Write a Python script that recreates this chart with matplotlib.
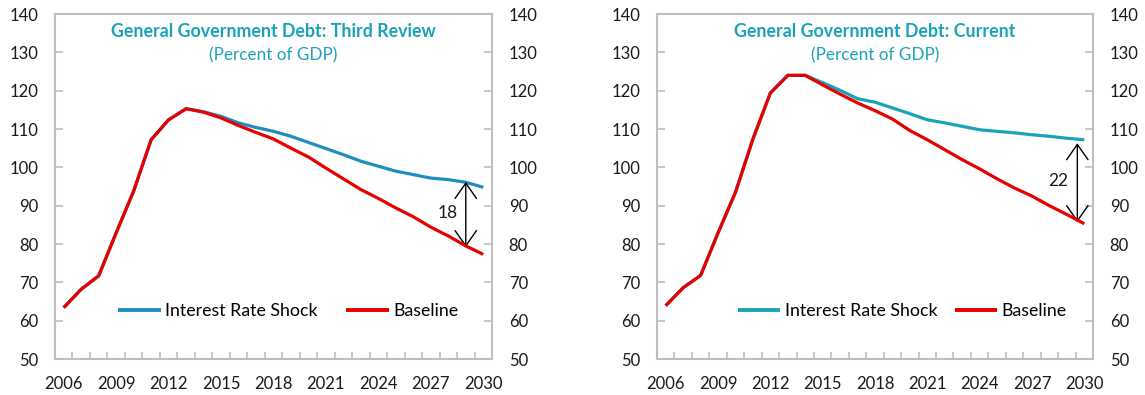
import numpy as np
import matplotlib
matplotlib.use("Agg")
from matplotlib import pyplot as plt

plt.rcParams['font.family'] = ['Lato', 'DejaVu Sans']

years = list(range(2006, 2031))

# Third review projections (percent of GDP)
third_baseline = [63.4, 68.2, 71.7, 82.9, 93.8, 107.2, 112.4, 115.3, 114.4, 112.9,
                  110.9, 109.1, 107.4, 105.0, 102.7, 99.8, 97.0, 94.2, 91.9, 89.4,
                  87.1, 84.4, 82.1, 79.5, 77.3]
third_shock = [63.4, 68.2, 71.7, 82.9, 93.8, 107.2, 112.4, 115.3, 114.5, 113.3,
               111.6, 110.4, 109.4, 108.1, 106.5, 104.9, 103.3, 101.6, 100.3, 99.0,
               98.1, 97.2, 96.8, 96.1, 94.8]

# Current projections (percent of GDP)
current_baseline = [63.9, 68.6, 71.8, 82.9, 93.5, 107.4, 119.4, 124.0, 124.0, 121.5,
                    119.1, 116.8, 114.8, 112.6, 109.6, 107.2, 104.6, 102.0, 99.6, 97.0,
                    94.6, 92.5, 90.0, 87.7, 85.3]
current_shock = [63.9, 68.6, 71.8, 82.9, 93.5, 107.4, 119.4, 124.0, 124.0, 122.1,
                 120.1, 117.9, 117.0, 115.5, 114.0, 112.4, 111.6, 110.7, 109.8, 109.4,
                 109.0, 108.5, 108.1, 107.6, 107.2]

titles = ["General Government Debt: Third Review", "General Government Debt: Current"]
gap_labels = ["18", "22"]
# arrow x position and its end values
gap_x = [2029, 2029.6]
gap_top = [96.2, 106.3]
gap_bottom = [79.2, 85.7]
gap_text_xy = [(2027.95, 88.1), (2028.5, 96.4)]

RED = '#E60000'
TEAL = '#1AA3B8'
shock_colors = ['#1F8EBF', '#1AA3B8']
GRID_GRAY = '#BFBFBF'


def draw_panel(ax, baseline, shock, title, shock_color, i, leg_x, col_gap):
    ax.plot(years, shock, color=shock_color, lw=2.3, solid_capstyle='butt',
            label='Interest Rate Shock', zorder=3)
    ax.plot(years, baseline, color=RED, lw=2.3, solid_capstyle='butt',
            label='Baseline', zorder=4)

    ax.set_xlim(2005.5, 2030.5)
    ax.set_ylim(50, 140)
    ax.set_yticks(np.arange(50, 141, 10))
    ax.set_xticks(np.arange(2006, 2031, 3))
    ax.set_xticks(np.arange(2006.5, 2030.6, 1), minor=True)

    for s in ax.spines.values():
        s.set_color(GRID_GRAY)
        s.set_linewidth(1.5)

    ax.tick_params(axis='y', which='major', direction='in', length=6, width=1.2,
                   color=GRID_GRAY, left=True, right=True, labelleft=True,
                   labelright=True, labelsize=12, pad=12, labelcolor='#1a1a1a')
    ax.tick_params(axis='x', which='major', length=0, labelsize=12, pad=12,
                   labelcolor='#1a1a1a')
    ax.tick_params(axis='x', which='minor', direction='in', length=5, width=1.2,
                   color=GRID_GRAY)

    ax.text(0.5, 0.948, title, transform=ax.transAxes, ha='center', va='center',
            fontsize=12.8, fontweight='bold', color=TEAL)
    ax.text(0.5, 0.881, '(Percent of GDP)', transform=ax.transAxes, ha='center',
            va='center', fontsize=12.3, color=TEAL)

    ax.annotate('', xy=(gap_x[i], gap_top[i]), xytext=(gap_x[i], gap_bottom[i]),
                arrowprops=dict(arrowstyle='<->,head_length=0.5,head_width=0.35',
                                color='black', lw=1.0,
                                mutation_scale=22, shrinkA=0, shrinkB=0))
    ax.text(gap_text_xy[i][0], gap_text_xy[i][1], gap_labels[i], ha='center',
            va='center', fontsize=12.5, color='#1a1a1a')

    leg = ax.legend(loc='center left', bbox_to_anchor=(leg_x, 0.139), ncol=2,
                    frameon=False, fontsize=12.8, handlelength=2.4,
                    handletextpad=0.25, columnspacing=col_gap, borderpad=0,
                    borderaxespad=0)
    for line in leg.get_lines():
        line.set_linewidth(2.8)


fig = plt.figure(figsize=(11.45, 3.95), dpi=100)
ax1 = fig.add_axes([0.048, 0.0911, 0.3817, 0.8734])
ax2 = fig.add_axes([0.5738, 0.0911, 0.3808, 0.8734])

draw_panel(ax1, third_baseline, third_shock, titles[0], shock_colors[0], 0, 0.145, 1.6)
draw_panel(ax2, current_baseline, current_shock, titles[1], shock_colors[1], 1, 0.185, 0.97)

fig.savefig('out.png', dpi=100, facecolor='white')
